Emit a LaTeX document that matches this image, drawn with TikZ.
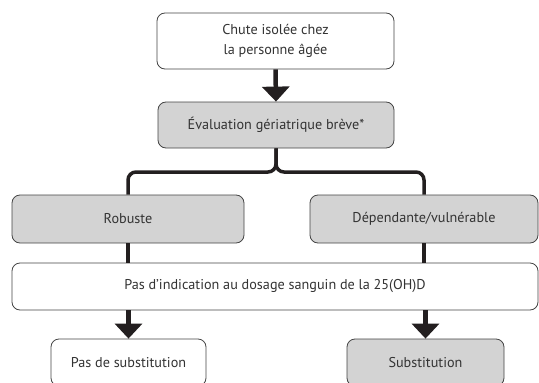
\documentclass[tikz,border=0pt]{standalone}
\usepackage{fontspec}
\setmainfont{PT Sans}
\usetikzlibrary{arrows.meta, positioning}
\definecolor{boxgray}{HTML}{D3D3D3}
\definecolor{edge}{HTML}{444444}
\definecolor{ink}{HTML}{231F20}
\definecolor{txt}{HTML}{333333}

\begin{document}
\begin{tikzpicture}[
    x=1pt, y=-1pt,
    every node/.style={font=\fontsize{14.2}{20}\selectfont, text=txt, align=center},
    plain/.style={draw=edge, line width=0.8pt, rounded corners=8pt, fill=white, inner sep=0pt},
    shaded/.style={plain, fill=boxgray},
    arrow/.style={-{Triangle[width=27pt,length=15pt]}, ink, line width=4.5pt},
    brace/.style={ink, line width=3.5pt, rounded corners=8pt},
]
\useasboundingbox (0,0) rectangle (539,383);
\clip (0,0) rectangle (539,383);
\node[plain, minimum width=237pt, minimum height=56pt] (chute) at (275.5,41) {Chute isolée chez\\la personne âgée};
\node[shaded, minimum width=236pt, minimum height=46pt] (eval) at (276,125) {Évaluation gériatrique brève*};
\node[shaded, minimum width=232pt, minimum height=48pt] (robuste) at (128,219) {Robuste};
\node[shaded, minimum width=228pt, minimum height=48pt] (dep) at (424,219) {Dépendante/vulnérable};
\node[plain, minimum width=526pt, minimum height=47pt] (pasind) at (275,286.5) {Pas d’indication au dosage sanguin de la 25(OH)D};
\node[plain, minimum width=155pt, minimum height=47pt] (pasdesub) at (128.5,362.5) {Pas de substitution};
\node[shaded, minimum width=157pt, minimum height=47pt] (subst) at (425.5,362.5) {Substitution};
\coordinate (split) at (276,172);
\draw[arrow] (chute.south) -- (eval.north);
\draw[brace] (eval.south) -- (split) -| (robuste.north);
\draw[brace] (eval.south) -- (split) -| (dep.north);
\draw[brace] (robuste.south) -- (robuste.south |- pasind.north);
\draw[brace] (dep.south) -- (dep.south |- pasind.north);
\draw[arrow] (pasind.south -| pasdesub.north) -- (pasdesub.north);
\draw[arrow] (pasind.south -| subst.north) -- (subst.north);
\end{tikzpicture}
\end{document}
